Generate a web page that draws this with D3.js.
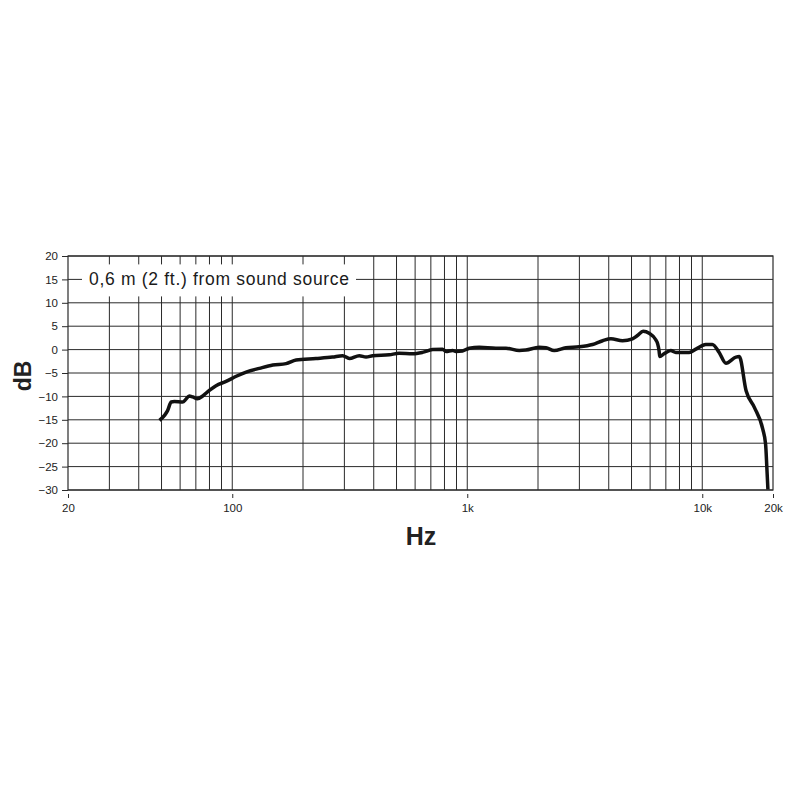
<!DOCTYPE html>
<html><head><meta charset="utf-8">
<script src="https://cdn.jsdelivr.net/npm/d3@7"></script>
<style>body{margin:0;background:#fff}svg{display:block}text{font-family:"Liberation Sans",Arial,sans-serif}</style>
</head><body>
<script>
const freqs = [49,51.6,53,55,56.7,61.5,63.5,65.6,67.8,71.1,74.9,79.9,85.3,94.1,104,114.6,130.5,148.8,169.4,186.9,
  227,267,295,315,347,371,396,466,513,585,645,712,785,812,866,895,955,1020,1125,1325,1462,1665,1776,2024,2161,2343,2628,2995,3413,3769,4087,4577,5045,5298,5605,5943,6341,6462,6552,6594,6878,7343,7715,7979,8793,9395,10343,11042,11803,12616,13915,14375,15366,16680,18093,18600,18834,19030];
const dbs = [-15.1,-14,-13.1,-11.2,-11.1,-11.2,-10.6,-9.9,-10.1,-10.5,-9.9,-8.7,-7.7,-6.8,-5.7,-4.8,-4.0,-3.3,-3.0,-2.2,
  -1.9,-1.6,-1.3,-1.9,-1.3,-1.6,-1.3,-1.1,-0.8,-0.9,-0.6,0,0.1,-0.4,-0.2,-0.4,-0.3,0.3,0.5,0.3,0.3,-0.2,-0.1,0.5,0.4,-0.2,0.4,0.6,1.1,1.9,2.3,1.9,2.3,3.0,3.9,3.5,2.1,1.2,-0.3,-1.5,-0.9,-0.2,-0.6,-0.6,-0.6,0.1,1.1,1.1,-0.6,-2.9,-1.6,-1.5,-8.8,-12.4,-17.0,-20.2,-25.3,-29.9];
const gridFreqs = [30,40,50,60,70,80,90,100,200,300,400,500,600,700,800,900,1000,2000,3000,4000,5000,6000,7000,8000,9000,10000];
const dbTicks = [-30,-25,-20,-15,-10,-5,0,5,10,15,20];
const freqTicks = [20,100,1000,10000,20000];
const freqTickLabels = ["20","100","1k","10k","20k"];
const legendText = "0,6 m (2 ft.) from sound source";

const W=800,H=800;
const svg=d3.select("body").append("svg").attr("width",W).attr("height",H);
const x=d3.scaleLog().domain([20,20000]).range([68,773]);
const y=d3.scaleLinear().domain([-30,20]).range([490,256]);
const gc="#2a2a2a";
const g=svg.append("g");
g.selectAll("line.h").data(dbTicks).enter().append("line")
 .attr("x1",x(20)).attr("x2",x(20000)).attr("y1",d=>y(d)).attr("y2",d=>y(d))
 .attr("stroke",gc).attr("stroke-width",1);
g.selectAll("line.v").data(gridFreqs).enter().append("line")
 .attr("x1",d=>x(d)).attr("x2",d=>x(d)).attr("y1",y(20)).attr("y2",y(-30))
 .attr("stroke",gc).attr("stroke-width",1);
g.append("rect").attr("x",x(20)).attr("y",y(20)).attr("width",x(20000)-x(20)).attr("height",y(-30)-y(20))
 .attr("fill","none").attr("stroke",gc).attr("stroke-width",1.2);
const lt=svg.append("text").attr("x",89).attr("y",y(15)+6).attr("font-size",17.5).attr("fill","#1a1a1a")
 .attr("textLength",260).attr("lengthAdjust","spacing").text(legendText);
const bb=lt.node().getBBox();
svg.insert("rect","text").attr("x",82).attr("y",y(15)-15).attr("width",356-82).attr("height",32).attr("fill","#fff");
const ya=d3.axisLeft(y).tickValues(dbTicks).tickSize(6).tickPadding(4);
svg.append("g").attr("transform",`translate(${x(20)},0)`).call(ya)
 .call(s=>{s.select(".domain").remove();s.selectAll("line").attr("stroke",gc);s.selectAll("text").attr("font-size",11.5).attr("fill","#222").attr("font-family","Liberation Sans, Arial, sans-serif");});
const xa=d3.axisBottom(x).tickValues(freqTicks).tickFormat((d,i)=>freqTickLabels[i]).tickSize(4).tickPadding(6);
svg.append("g").attr("transform",`translate(0,${y(-30)+4})`).call(xa)
 .call(s=>{s.select(".domain").remove();s.selectAll("line").attr("stroke",gc);s.selectAll("text").attr("font-size",11.5).attr("fill","#222").attr("font-family","Liberation Sans, Arial, sans-serif");});
const pts=freqs.map((f,i)=>[f,dbs[i]]);
svg.append("path").datum(pts).attr("fill","none").attr("stroke","#111").attr("stroke-width",3.5)
 .attr("stroke-linejoin","round").attr("stroke-linecap","butt")
 .attr("d",d3.line().x(d=>x(d[0])).y(d=>y(d[1])).curve(d3.curveMonotoneX));
svg.append("text").attr("x",421).attr("y",545).attr("text-anchor","middle").attr("font-size",25).attr("font-weight","bold").attr("fill","#222").text("Hz");
svg.append("text").attr("transform",`translate(31,${y(-5)+3}) rotate(-90)`).attr("text-anchor","middle").attr("font-size",23).attr("font-weight","bold").attr("fill","#222").text("dB");
</script>
</body></html>
